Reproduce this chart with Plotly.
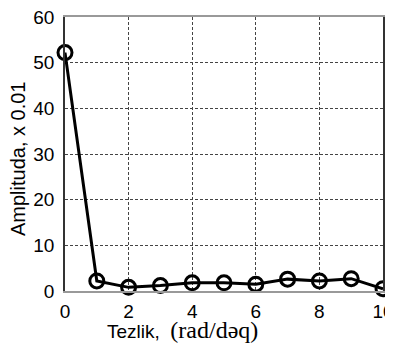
import plotly.graph_objects as go

freq = [0, 1, 2, 3, 4, 5, 6, 7, 8, 9, 10]
amplitude = [52.2, 2.2, 0.8, 1.2, 1.8, 1.8, 1.5, 2.6, 2.2, 2.7, 0.5]
x_ticks = [0, 2, 4, 6, 8, 10]
y_ticks = [0, 10, 20, 30, 40, 50, 60]

fig = go.Figure()
fig.add_trace(go.Scatter(
    x=freq, y=amplitude, mode="lines+markers",
    line=dict(color="black", width=3),
    marker=dict(symbol="circle-open", size=14, color="black", line=dict(width=3)),
    cliponaxis=False,
))

# page body has an 8px margin, so the figure is sized to fit the 393x345 window
fig.update_layout(
    width=385, height=337,
    margin=dict(l=57, r=10, t=9, b=54, autoexpand=False),
    paper_bgcolor="white", plot_bgcolor="white",
    showlegend=False,
    font=dict(family="Liberation Sans, Arial", size=19, color="black"),
    xaxis=dict(
        range=[0, 10], tickvals=x_ticks, ticks="", showgrid=True,
        gridcolor="#444", griddash="3px,2px", gridwidth=1,
        showline=True, linecolor="#999", linewidth=2, mirror=True,
        zeroline=False, ticklabelstandoff=2, automargin=False,
        ticklabeloverflow="allow",
        tickfont=dict(size=19),
    ),
    yaxis=dict(
        range=[0, 60], tickvals=y_ticks, ticks="", showgrid=True,
        gridcolor="#444", griddash="3px,2px", gridwidth=1,
        showline=True, linecolor="#333", linewidth=1.5, mirror=True,
        zeroline=False, ticklabelstandoff=5, automargin=False,
        ticklabeloverflow="allow",
        tickfont=dict(size=19),
    ),
)

fig.add_annotation(
    xref="paper", yref="paper", x=-0.148, y=0.485,
    xanchor="center", yanchor="middle", showarrow=False, textangle=-90,
    text="Amplituda, x 0.01", font=dict(size=20, color="black"),
)

fig.add_annotation(
    xref="paper", yref="paper", x=0.368, y=-0.143,
    xanchor="center", yanchor="middle", showarrow=False,
    text="Tezlik,&nbsp;&nbsp;<span style='font-family:Liberation Serif, Times New Roman; font-size:24px'>(rad/dəq)</span>",
    font=dict(size=19, color="black"),
)

fig.write_html("out.html")
